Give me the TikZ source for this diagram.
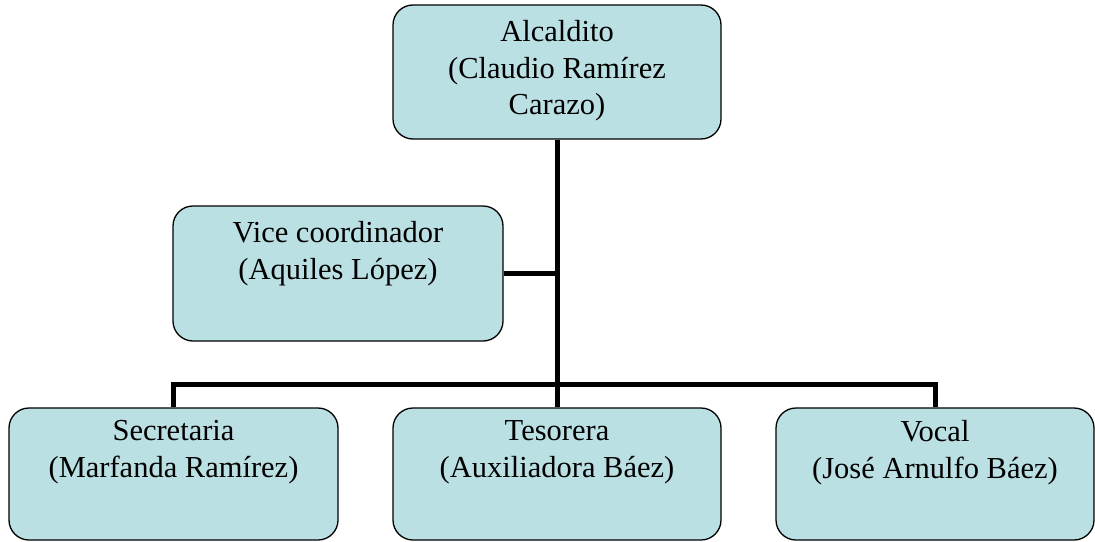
\documentclass[tikz,border=0pt]{standalone}
\usepackage{fontspec}
\setmainfont{Liberation Serif}
\definecolor{celeste}{RGB}{187,224,227}
\tikzset{
  cargo/.style={draw, fill=celeste, line width=1.3pt, rounded corners=20pt, inner sep=0pt},
  nombre/.style={anchor=north, align=center, inner sep=0pt, font=\fontsize{30.5}{36.5}\selectfont},
  linea/.style={line width=5pt}
}
\begin{document}
\begin{tikzpicture}[x=1pt, y=-1pt]
            \useasboundingbox (0,0) rectangle (1095,541);

            \node[cargo, minimum width=328pt, minimum height=134pt] (alc) at (557,72) {};
            \node[cargo, minimum width=330pt, minimum height=135pt] (vice) at (338,273.5) {};
            \node[cargo, minimum width=329pt, minimum height=132pt] (sec) at (173.5,474) {};
            \node[cargo, minimum width=328pt, minimum height=132pt] (tes) at (557,474) {};
            \node[cargo, minimum width=318pt, minimum height=132pt] (voc) at (935,474) {};

            \node[nombre, yshift=-16pt] (alcT) at (alc.north) {Alcaldito\\(Claudio Ramírez\\Carazo)};
            \node[nombre, yshift=-16pt] (viceT) at (vice.north) {Vice coordinador\\(Aquiles López)};
            \node[nombre, yshift=-13pt] (secT) at (sec.north) {Secretaria\\(Marfanda Ramírez)};
            \node[nombre, yshift=-13pt] (tesT) at (tes.north) {Tesorera\\(Auxiliadora Báez)};
            \node[nombre, yshift=-13pt] (vocT) at (voc.north) {Vocal\\(José Arnulfo Báez)};

            \coordinate (bar) at (557,384);
            \coordinate (vicej) at (557,273.5);

            \draw[linea] (alc.south) -- (bar);
            \draw[linea] (vice.east) -- (vicej);
            \draw[linea] (sec.north) |- (bar) -| (voc.north);
            \draw[linea] (bar) -- (tes.north);

        \end{tikzpicture}
\end{document}
